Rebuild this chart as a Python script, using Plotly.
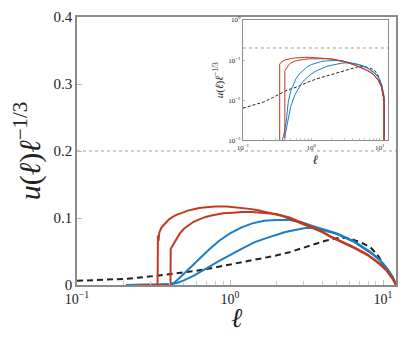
import plotly.graph_objects as go

# curves (ell, u(ell) * ell^-1/3)
red1_l = [0.25, 0.336, 0.337, 0.338, 0.341, 0.345, 0.355, 0.37, 0.385, 0.40, 0.425, 0.45, 0.49, 0.53,
          0.58, 0.63, 0.70, 0.80, 0.95, 1.1, 1.3, 1.5, 1.8, 2.2, 2.7, 3.3, 4.0, 4.6, 5.5, 6.5,
          8.0, 9.5, 10.5, 11.5, 12.2]
red1_u = [0.0, 0.0, 0.030, 0.074, 0.066, 0.078, 0.085, 0.090, 0.094, 0.098, 0.102, 0.105, 0.108, 0.111,
          0.113, 0.115, 0.116, 0.117, 0.117, 0.116, 0.114, 0.112, 0.108, 0.103, 0.095, 0.087, 0.079, 0.071,
          0.063, 0.055, 0.044, 0.031, 0.022, 0.010, 0.0]

red2_l = [0.28, 0.408, 0.41, 0.42, 0.43, 0.45, 0.47, 0.50, 0.54, 0.575, 0.63, 0.70, 0.77, 0.9, 1.05,
          1.19, 1.4, 1.67, 2.0, 2.45, 2.9, 3.3, 4.0, 4.6, 5.5, 6.5, 8.0, 9.5, 10.5, 11.5, 12.2]
red2_u = [0.0, 0.0, 0.054, 0.058, 0.062, 0.070, 0.077, 0.084, 0.090, 0.094, 0.098, 0.102, 0.104, 0.107,
          0.108, 0.109, 0.109, 0.108, 0.106, 0.101, 0.094, 0.088, 0.080, 0.072, 0.064, 0.056, 0.045,
          0.032, 0.023, 0.011, 0.0]

blue1_l = [0.21, 0.30, 0.35, 0.40, 0.43, 0.46, 0.50, 0.55, 0.60, 0.66, 0.73, 0.85, 1.0, 1.19, 1.4,
           1.67, 2.0, 2.45, 2.9, 3.46, 4.2, 5.0, 6.5, 8.3, 9.5, 10.7, 11.6, 12.2]
blue1_u = [0.0, 0.0002, 0.0006, 0.0015, 0.003, 0.009, 0.017, 0.026, 0.035, 0.044, 0.053, 0.066, 0.077,
           0.086, 0.092, 0.096, 0.097, 0.097, 0.094, 0.088, 0.082, 0.077, 0.065, 0.049, 0.038, 0.024,
           0.012, 0.0]

blue2_l = [0.21, 0.30, 0.37, 0.41, 0.45, 0.50, 0.58, 0.65, 0.73, 0.85, 1.0, 1.19, 1.45, 1.7, 1.95,
           2.3, 2.72, 3.1, 3.46, 4.2, 5.0, 6.5, 8.3, 9.5, 10.7, 11.6, 12.2]
blue2_u = [0.0, 0.0001, 0.0005, 0.0012, 0.003, 0.007, 0.014, 0.020, 0.027, 0.036, 0.045, 0.054, 0.064,
           0.070, 0.074, 0.079, 0.083, 0.085, 0.085, 0.081, 0.076, 0.064, 0.048, 0.037, 0.023, 0.011, 0.0]

dash_l = [0.1, 0.15, 0.2, 0.27, 0.355, 0.45, 0.6, 0.75, 0.93, 1.2, 1.5, 2.0, 2.45, 3.0, 3.5, 4.2,
          5.1, 5.8, 6.5, 7.4, 8.3, 9.2, 10.0, 11.0, 11.7, 12.2]
dash_u = [0.0063, 0.0078, 0.009, 0.0115, 0.0146, 0.018, 0.021, 0.025, 0.029, 0.034, 0.038, 0.044,
          0.049, 0.055, 0.060, 0.066, 0.070, 0.070, 0.067, 0.062, 0.056, 0.045, 0.032, 0.016, 0.006, 0.0]

curves = [
    (dash_l, dash_u, "#222222", True),
    (blue2_l, blue2_u, "#1a7dc8", False),
    (blue1_l, blue1_u, "#1a7dc8", False),
    (red2_l, red2_u, "#c03a22", False),
    (red1_l, red1_u, "#c03a22", False),
]

ref_level = 0.2
main_yticks = [0, 0.1, 0.2, 0.3, 0.4]
minor_x = [0.2, 0.3, 0.4, 0.5, 0.6, 0.7, 0.8, 0.9, 2, 3, 4, 5, 6, 7, 8, 9]

SERIF = "Liberation Serif, DejaVu Serif, serif"
AXC = "#8c8c8c"

fig = go.Figure()

# reference line
for xa, ya, xr in [("x", "y", [0.1, 13.5]), ("x2", "y2", [0.1, 14])]:
    fig.add_trace(go.Scatter(x=xr, y=[ref_level, ref_level], mode="lines", xaxis=xa, yaxis=ya,
                             line=dict(color="#999999", width=1, dash="dot"),
                             showlegend=False, hoverinfo="skip"))

for l, u, c, dashed in curves:
    fig.add_trace(go.Scatter(x=l, y=u, mode="lines",
                             line=dict(color=c, width=2, dash="6px,4px" if dashed else "solid"),
                             showlegend=False))
    fig.add_trace(go.Scatter(x=l, y=u, mode="lines", xaxis="x2", yaxis="y2",
                             line=dict(color=c, width=1, dash="3px,2px" if dashed else "solid"),
                             showlegend=False))

# page body has an 8px margin; keep the figure small enough that no scrollbars show
fig.update_layout(
    width=391, height=325,
    margin=dict(l=69, r=1, t=4, b=48),
    plot_bgcolor="white", paper_bgcolor="white",
    font=dict(family=SERIF, color="#222"),
    xaxis=dict(type="log", range=[-1, 1.085], showgrid=False, zeroline=False,
               showline=True, linecolor=AXC, linewidth=1.5, mirror=True,
               ticks="inside", ticklen=5, tickcolor="#bbbbbb", ticklabeloverflow="allow",
               tickvals=[0.1, 1, 10],
               ticktext=["10<sup>−1</sup>", "10<sup>0</sup>", "10<sup>1</sup>"],
               tickfont=dict(size=14, family=SERIF),
               minor=dict(ticks="inside", ticklen=4, tickcolor="#cccccc", tickvals=minor_x,
                          showgrid=False),
               title=dict(text="<i>ℓ</i>", font=dict(size=27, family=SERIF), standoff=0)),
    yaxis=dict(range=[0, 0.4], showgrid=False, zeroline=False,
               showline=True, linecolor=AXC, linewidth=1.5, mirror=True,
               ticks="inside", ticklen=5, tickcolor="#bbbbbb", ticklabeloverflow="allow",
               tickvals=main_yticks, ticktext=["0", "0.1", "0.2", "0.3", "0.4"],
               tickfont=dict(size=15, family=SERIF),
               title=dict(text="<i>u</i>(<i>ℓ</i>)<i>ℓ</i><sup>−1/3</sup>",
                          font=dict(size=30, family=SERIF), standoff=9)),
    xaxis2=dict(type="log", range=[-1, 1.12], domain=[0.52, 0.975], anchor="y2",
                showgrid=False, zeroline=False, showline=True, linecolor=AXC, linewidth=1, mirror=True,
                ticks="inside", ticklen=2, tickcolor="#bbbbbb", ticklabeloverflow="allow",
                tickvals=[0.1, 1, 10],
                ticktext=["10<sup>−1</sup>", "10<sup>0</sup>", "10<sup>1</sup>"],
                tickfont=dict(size=7, family=SERIF),
                minor=dict(ticks="inside", ticklen=2, tickcolor="#cccccc", tickvals=minor_x),
                title=dict(text="<i>ℓ</i>", font=dict(size=13, family=SERIF), standoff=2)),
    yaxis2=dict(type="log", range=[-3, 0], domain=[0.54, 0.989], anchor="x2",
                showgrid=False, zeroline=False, showline=True, linecolor=AXC, linewidth=1, mirror=True,
                ticks="inside", ticklen=2, tickcolor="#bbbbbb", ticklabeloverflow="allow",
                tickvals=[0.001, 0.01, 0.1, 1],
                ticktext=["10<sup>−3</sup>", "10<sup>−2</sup>", "10<sup>−1</sup>", "10<sup>0</sup>"],
                tickfont=dict(size=7, family=SERIF),
                title=dict(text="<i>u</i>(<i>ℓ</i>)<i>ℓ</i><sup>−1/3</sup>",
                           font=dict(size=11, family=SERIF), standoff=2)),
)

fig.write_html("out.html")
